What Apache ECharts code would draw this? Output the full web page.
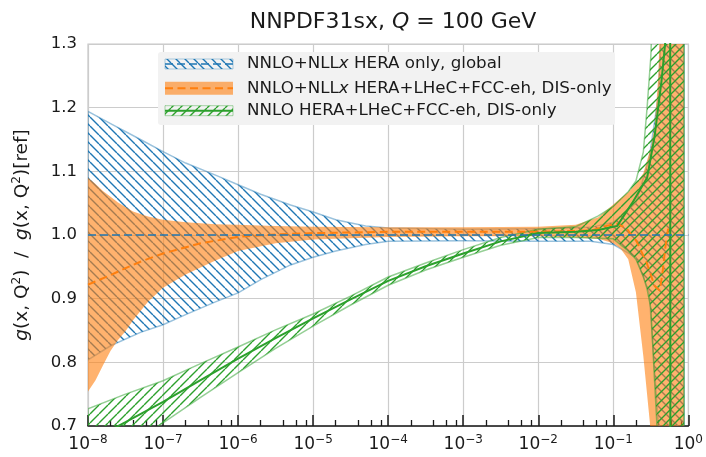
<!DOCTYPE html>
<html>
<head>
<meta charset="utf-8">
<script src="https://cdn.jsdelivr.net/npm/echarts@6/dist/echarts.min.js"></script>
<style>
  html, body { margin: 0; padding: 0; background: #ffffff; }
  #chart { width: 706px; height: 457px; }
</style>
</head>
<body>
<div id="chart"></div>
<script>
// ---- gluon ratio bands, NNPDF3.1sx at Q = 100 GeV ----

// NNLO+NLLx, HERA only (global fit)
const blueX     = [1e-8, 2e-8, 5e-8, 1e-7, 2e-7, 5e-7, 1e-6, 2e-6, 5e-6, 1e-5, 2e-5, 5e-5, 1e-4, 1e-3, 1e-2, 5e-2, 0.1, 0.2, 0.3, 0.4, 0.5, 0.6, 0.877];
const blueUpper = [1.194, 1.175, 1.150, 1.131, 1.113, 1.094, 1.079, 1.064, 1.047, 1.036, 1.024, 1.014, 1.011, 1.009, 1.010, 1.012, 1.020, 1.050, 1.120, 1.220, 1.500, 2.000, 3.000];
const blueLower = [0.804, 0.826, 0.847, 0.859, 0.875, 0.895, 0.909, 0.930, 0.953, 0.965, 0.975, 0.985, 0.990, 0.991, 0.990, 0.990, 0.985, 0.965, 0.910, 0.700, 0.400, 0.000, -1.000];
const blueMidX  = [1e-8, 1];
const blueMid   = [1.0, 1.0];

// NNLO+NLLx, HERA+LHeC+FCC-eh (DIS only)
const orangeX     = [1e-8, 1.26e-8, 1.58e-8, 2e-8, 2.51e-8, 3.16e-8, 3.98e-8, 6.31e-8, 1e-7, 2e-7, 5e-7, 1e-6, 3.16e-6, 1e-5, 1e-4, 1e-3, 1e-2, 3.16e-2, 6.31e-2, 0.1, 0.126, 0.158, 0.2, 0.251, 0.316, 0.355, 0.398, 0.447, 0.501, 0.877];
const orangeUpper = [1.090, 1.080, 1.069, 1.060, 1.051, 1.044, 1.037, 1.029, 1.024, 1.020, 1.017, 1.016, 1.014, 1.013, 1.012, 1.012, 1.013, 1.016, 1.028, 1.048, 1.058, 1.067, 1.080, 1.097, 1.137, 1.170, 1.250, 1.450, 1.800, 3.000];
const orangeLower = [0.754, 0.772, 0.795, 0.818, 0.835, 0.849, 0.866, 0.895, 0.917, 0.938, 0.960, 0.975, 0.987, 0.993, 0.997, 0.998, 0.998, 0.996, 0.994, 0.987, 0.978, 0.962, 0.910, 0.810, 0.690, 0.580, 0.400, 0.200, 0.000, -1.000];
const orangeMidX  = [1e-8, 2e-8, 3.16e-8, 5e-8, 1e-7, 3.16e-7, 1e-6, 3.16e-6, 1e-5, 1e-4, 1e-3, 1e-2, 5e-2, 7.94e-2, 0.112, 0.151, 0.204, 0.275, 0.355, 0.417, 0.457, 0.49, 0.537];
const orangeMid   = [0.922, 0.937, 0.948, 0.958, 0.971, 0.987, 0.997, 1.001, 1.003, 1.005, 1.005, 1.005, 1.007, 1.014, 1.018, 1.010, 0.990, 0.958, 0.920, 0.913, 0.945, 0.978, 1.010];

// NNLO, HERA+LHeC+FCC-eh (DIS only)
const greenX     = [1e-8, 3.16e-8, 1e-7, 3.16e-7, 1e-6, 3.16e-6, 1e-5, 3.16e-5, 1e-4, 3.16e-4, 1e-3, 3.16e-3, 1e-2, 3.16e-2, 6.31e-2, 0.1, 0.158, 0.2, 0.251, 0.282, 0.316, 0.355, 0.38, 0.447, 0.877];
const greenUpper = [0.727, 0.750, 0.771, 0.798, 0.824, 0.851, 0.876, 0.904, 0.934, 0.956, 0.977, 0.996, 1.009, 1.013, 1.030, 1.045, 1.068, 1.085, 1.130, 1.200, 1.280, 1.450, 1.600, 2.200, 3.000];
const greenLower = [0.630, 0.668, 0.705, 0.745, 0.784, 0.822, 0.857, 0.890, 0.921, 0.945, 0.965, 0.984, 0.996, 0.996, 0.995, 0.994, 0.975, 0.962, 0.935, 0.915, 0.885, 0.770, 0.705, 0.400, -1.000];
const greenMidX  = [1e-8, 3.16e-8, 1e-7, 3.16e-7, 1e-6, 3.16e-6, 1e-5, 3.16e-5, 1e-4, 3.16e-4, 1e-3, 3.16e-3, 1e-2, 3.16e-2, 6.31e-2, 0.112, 0.178, 0.282, 0.355, 0.437, 0.49, 0.537, 0.569, 0.582, 0.877];
const greenMid   = [0.675, 0.706, 0.738, 0.772, 0.806, 0.838, 0.869, 0.899, 0.928, 0.951, 0.971, 0.990, 1.003, 1.005, 1.008, 1.014, 1.050, 1.090, 1.155, 1.240, 1.300, 1.450, 2.000, -0.500, -1.000];

// axis ticks and legend labels
const yTicks = [0.7, 0.8, 0.9, 1.0, 1.1, 1.2, 1.3];
const xDecades = [-8, -7, -6, -5, -4, -3, -2, -1, 0];
const minorMantissas = [2, 4, 6, 8];
const legendLabels = [
  'NNLO+NLL{i|x} HERA only, global',
  'NNLO+NLL{i|x} HERA+LHeC+FCC-eh, DIS-only',
  'NNLO HERA+LHeC+FCC-eh, DIS-only'
];

const BLUE = '#1f77b4', ORANGE = '#ff7f0e', GREEN = '#2ca02c';
const FONT = 'DejaVu Sans';
const TEXT = '#1a1a1a';

// diagonal hatch tile used as a repeating fill
function makeHatch(color, dir, p, w) {
  const c = document.createElement('canvas');
  c.width = p; c.height = p;
  const g = c.getContext('2d');
  g.strokeStyle = color; g.lineWidth = w;
  g.beginPath();
  for (const k of [-p, 0, p]) {
    if (dir === '/') { g.moveTo(k, p); g.lineTo(k + p, 0); }
    else { g.moveTo(k, 0); g.lineTo(k + p, p); }
  }
  g.stroke();
  return { image: c, repeat: 'repeat' };
}
const blueHatch = makeHatch(BLUE, '\\', 9, 1.4);
const greenHatch = makeHatch(GREEN, '/', 9, 1.4);
const orangeFill = 'rgba(255,127,14,0.6)';

// a band drawn as one polygon: upper edge forward, lower edge back
function bandSeries(xs, lo, hi, fill, edge) {
  return {
    type: 'custom', silent: true, clip: true,
    data: xs.map((x, i) => [x, lo[i], hi[i]]),
    encode: { x: 0, y: [1, 2] },
    renderItem: function (params, api) {
      if (params.dataIndex !== 0) return null;
      const pts = [];
      for (let i = 0; i < xs.length; i++) pts.push(api.coord([xs[i], hi[i]]));
      for (let i = xs.length - 1; i >= 0; i--) pts.push(api.coord([xs[i], lo[i]]));
      const cs = params.coordSys;
      return {
        type: 'polygon',
        shape: { points: pts },
        style: { fill: fill, stroke: edge || null, lineWidth: edge ? 1.5 : 0 },
        clipPath: { type: 'rect', shape: { x: cs.x, y: cs.y, width: cs.width, height: cs.height } }
      };
    }
  };
}
function centralSeries(xs, ys, color, width, dash) {
  return {
    type: 'line', silent: true, symbol: 'none',
    data: xs.map((x, i) => [x, ys[i]]),
    lineStyle: { color: color, width: width, type: dash || 'solid' }
  };
}

const minorTicks = [];
xDecades.slice(0, -1).forEach(e => minorMantissas.forEach(m => minorTicks.push(m * Math.pow(10, e))));

function decadeLabel(v) {
  const e = Math.round(Math.log10(v));
  return '10{s|' + String(e).replace('-', '\u2212') + '}';
}

const chart = echarts.init(document.getElementById('chart'), null, { renderer: 'canvas' });

const series = [
  bandSeries(blueX, blueLower, blueUpper, blueHatch, 'rgba(31,119,180,0.45)'),
  bandSeries(orangeX, orangeLower, orangeUpper, orangeFill, null),
  bandSeries(greenX, greenLower, greenUpper, greenHatch, 'rgba(44,160,44,0.5)'),
  centralSeries(orangeMidX, orangeMid, ORANGE, 2, [8, 4.5]),
  centralSeries(greenMidX, greenMid, GREEN, 2),
  centralSeries(blueMidX, blueMid, BLUE, 1.5, [8, 4])
];

// legend drawn as graphics: key swatches + labels
const LX = 158, LY = 52, LW = 457, LH = 73;
const rowY = [64, 88.3, 110.7];
const legendGraphics = [
  { type: 'rect', shape: { x: LX, y: LY, width: LW, height: LH, r: 3 },
    style: { fill: '#f2f2f2', stroke: null }, z: 100 },
  { type: 'rect', shape: { x: 165, y: rowY[0] - 5, width: 68, height: 10 },
    style: { fill: blueHatch, stroke: 'rgba(31,119,180,0.35)', lineWidth: 1 }, z: 101 },
  { type: 'line', shape: { x1: 165, y1: rowY[0], x2: 233, y2: rowY[0] },
    style: { stroke: BLUE, lineWidth: 1.5, lineDash: [8, 4] }, z: 102 },
  { type: 'rect', shape: { x: 165, y: rowY[1] - 6.5, width: 68, height: 13 },
    style: { fill: orangeFill }, z: 101 },
  { type: 'line', shape: { x1: 165, y1: rowY[1], x2: 233, y2: rowY[1] },
    style: { stroke: ORANGE, lineWidth: 2, lineDash: [8, 4.5] }, z: 102 },
  { type: 'rect', shape: { x: 165, y: rowY[2] - 5, width: 68, height: 10 },
    style: { fill: greenHatch, stroke: 'rgba(44,160,44,0.4)', lineWidth: 1 }, z: 101 },
  { type: 'line', shape: { x1: 165, y1: rowY[2], x2: 233, y2: rowY[2] },
    style: { stroke: GREEN, lineWidth: 2 }, z: 102 }
];
legendLabels.forEach((t, i) => {
  legendGraphics.push({
    type: 'text', x: 247, y: rowY[i], z: 103,
    style: {
      text: t, fill: TEXT, fontFamily: FONT, fontSize: 16.7,
      verticalAlign: 'middle', align: 'left',
      rich: { i: { fontStyle: 'italic', fontFamily: FONT, fontSize: 16.7, fill: TEXT } }
    }
  });
});

const option = {
  backgroundColor: '#ffffff',
  animation: false,
  title: {
    text: 'NNPDF31sx, {i|Q} = 100 GeV',
    left: 388, top: 6, textAlign: 'center',
    textStyle: {
      fontFamily: FONT, fontSize: 22, fontWeight: 'normal', color: TEXT,
      rich: { i: { fontFamily: FONT, fontSize: 22, fontStyle: 'italic', color: TEXT } }
    }
  },
  grid: {
    left: 88, right: 17, top: 44, bottom: 31,
    show: true, borderColor: '#c8c8c8', borderWidth: 1.2, backgroundColor: 'transparent',
    containLabel: false
  },
  xAxis: [
    {
      type: 'log', logBase: 10, min: 1e-8, max: 1, splitNumber: 8,
      axisLine: { show: true, onZero: false, lineStyle: { color: '#1a1a1a', width: 1.5 } },
      axisTick: { show: true, inside: true, length: 11, lineStyle: { color: '#1a1a1a', width: 1.5 } },
      splitLine: { show: true, lineStyle: { color: '#cccccc', width: 1.2 } },
      axisLabel: {
        margin: 8, color: TEXT, fontFamily: FONT, fontSize: 17,
        formatter: decadeLabel,
        rich: { s: { fontFamily: FONT, fontSize: 12, color: TEXT, padding: [0, 0, 10, 0] } }
      }
    },
    {
      type: 'log', logBase: 10, min: 1e-8, max: 1, position: 'bottom', gridIndex: 0,
      axisLine: { show: false },
      axisLabel: { show: false },
      splitLine: { show: false },
      axisTick: { show: true, inside: true, length: 6, customValues: minorTicks,
                  lineStyle: { color: '#1a1a1a', width: 1.3 } }
    }
  ],
  yAxis: {
    type: 'value', min: yTicks[0], max: yTicks[yTicks.length - 1], interval: 0.1,
    axisLine: { show: false }, axisTick: { show: false },
    splitLine: { show: true, lineStyle: { color: '#cccccc', width: 1.2 } },
    axisLabel: {
      margin: 11, color: TEXT, fontFamily: FONT, fontSize: 16.5,
      formatter: v => v.toFixed(1)
    },
    name: '{i|g}(x, Q{s|2})  /  {i|g}(x, Q{s|2})[ref]',
    nameLocation: 'middle', nameRotate: 90, nameGap: 55,
    nameTextStyle: {
      fontFamily: FONT, fontSize: 18.5, color: TEXT,
      rich: {
        i: { fontFamily: FONT, fontSize: 18.5, fontStyle: 'italic', color: TEXT },
        s: { fontFamily: FONT, fontSize: 12, color: TEXT, padding: [0, 0, 10, 0] }
      }
    }
  },
  series: series,
  graphic: legendGraphics
};

chart.setOption(option);
</script>
</body>
</html>
